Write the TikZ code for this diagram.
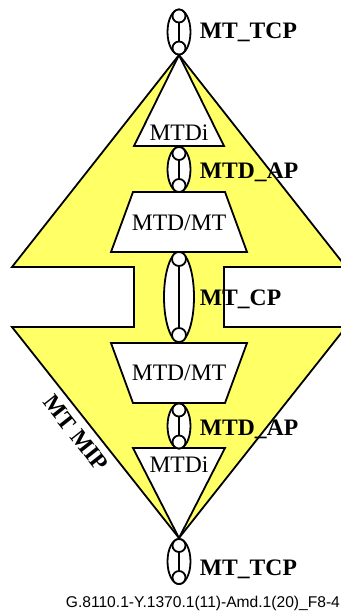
\documentclass[tikz,border=0pt]{standalone}
\usepackage{fontspec}
\setmainfont{Liberation Serif}
\newfontfamily\capfont{Liberation Sans}
\usetikzlibrary{positioning}
\usetikzlibrary{shapes.geometric}
\definecolor{mipyellow}{RGB}{255,255,102}
\newcommand\midx{179}
\newcommand\labx{199}
\newcommand\figfont{\fontsize{11.8}{14}\selectfont}
\tikzset{
    ring/.style = {draw, ellipse, fill=white, inner sep=0pt, minimum width=11.5pt, minimum height=22.5pt},
    bigring/.style = {ring, minimum width=15pt, minimum height=45pt},
    dot/.style = {draw, circle, fill=white, inner sep=0pt, minimum size=6.5pt},
    box/.style = {draw, fill=white, line join=miter},
    lbl/.style = {font=\figfont\bfseries, anchor=base west, inner sep=0pt},
    fn/.style = {font=\figfont, anchor=base, inner sep=0pt},
}

\begin{document}
\begin{tikzpicture}[x=0.5pt, y=-0.5pt, line width=0.9pt]
    \useasboundingbox (0,0) rectangle (341,611);
    % --- MIP area
    \filldraw[fill=mipyellow, line join=miter] (\midx,55) -- (12,267) -- (134,267) -- (134,327) -- (12,327)
        -- (\midx,538) -- (346,327) -- (224,327) -- (224,267) -- (346,267) -- cycle;
    % --- Functions
    \draw[box] (\midx,55) -- (134,146) -- (224,146) -- cycle;
    \draw[box] (133,192) -- (225,192) -- (247,252) -- (111,252) -- cycle;
    \draw[box] (111,343) -- (247,343) -- (225,403) -- (133,403) -- cycle;
    \draw[box] (133,448) -- (225,448) -- (\midx,538) -- cycle;
    \node[fn] (mtdiA) at (\midx,140) {MTDi};
    \node[fn] (mtdmtA) at (\midx,230) {MTD/MT};
    \node[fn] (mtdmtB) at (\midx,380) {MTD/MT};
    \node[fn] (mtdiB) at (\midx,472) {MTDi};
    % --- Top MT_TCP
    \node[ring] (tcpA) at (\midx,32) {};
    \node[dot, below=0pt of tcpA.north] (tcpAu) {};
    \node[dot, above=0pt of tcpA.south] (tcpAd) {};
    \draw (tcpAu) -- (tcpAd);
    \node[lbl] at (\labx,38) {MT\_TCP};
    % --- Upper MTD_AP
    \node[ring] (apA) at (\midx,169.5) {};
    \node[dot, below=0pt of apA.north] (apAu) {};
    \node[dot, above=0pt of apA.south] (apAd) {};
    \draw (apAu) -- (apAd);
    \node[lbl] at (\labx,178) {MTD\_AP};
    % --- MT_CP
    \node[bigring] (cp) at (\midx,297) {};
    \node[dot, minimum size=7pt, below=0pt of cp.north] (cpu) {};
    \node[dot, minimum size=7pt, above=0pt of cp.south] (cpd) {};
    \draw (cpu) -- (cpd);
    \node[lbl] at (\labx,305) {MT\_CP};
    % --- Lower MTD_AP
    \node[ring] (apB) at (\midx,426) {};
    \node[dot, below=0pt of apB.north] (apBu) {};
    \node[dot, above=0pt of apB.south] (apBd) {};
    \draw (apBu) -- (apBd);
    \node[lbl] at (\labx,435) {MTD\_AP};
    % --- Bottom MT_TCP
    \node[ring] (tcpB) at (\midx,561.5) {};
    \node[dot, below=0pt of tcpB.north] (tcpBu) {};
    \node[dot, above=0pt of tcpB.south] (tcpBd) {};
    \draw (tcpBu) -- (tcpBd);
    \node[lbl] at (\labx,575) {MT\_TCP};
    % --- MIP name and caption
    \node[font=\figfont\bfseries, rotate=-51.6, inner sep=0pt] (mip) at (76,433) {MT MIP};
    \node[anchor=base west, inner sep=0pt, font=\capfont\fontsize{7.8}{9}\selectfont] (cap) at (65,607)
        {G.8110.1-Y.1370.1(11)-Amd.1(20)\_F8-4};
\end{tikzpicture}
\end{document}
